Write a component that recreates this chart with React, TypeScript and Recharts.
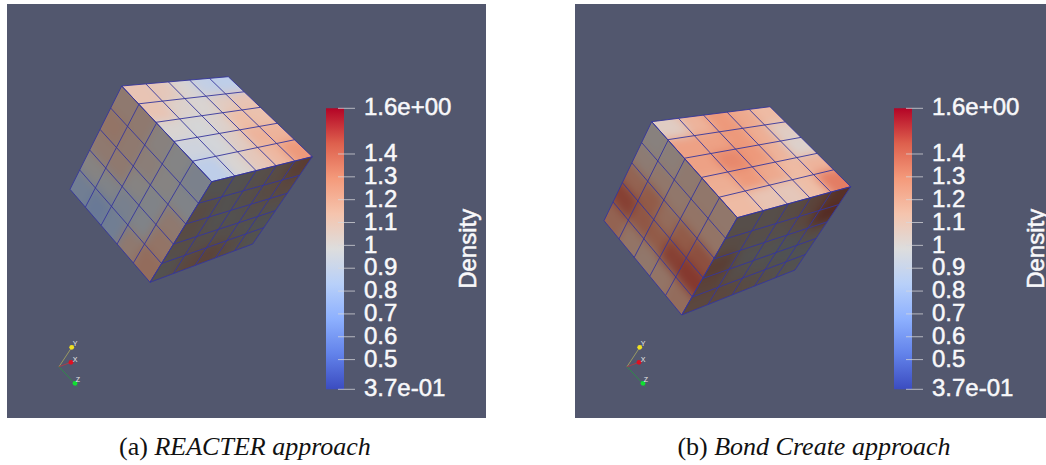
import {
  ScatterChart,
  Scatter,
  BarChart,
  Bar,
  XAxis,
  YAxis,
  ReferenceDot,
} from 'recharts';

type Pt = [number, number];

// colour bar
const DENSITY_MIN = 0.37;
const DENSITY_MAX = 1.6;
const DENSITY_TICKS = [0.37, 0.5, 0.6, 0.7, 0.8, 0.9, 1, 1.1, 1.2, 1.3, 1.4, 1.6];
const TICK_NAMES: Record<string, string> = { '0.37': '3.7e-01', '1.6': '1.6e+00' };
const COOL_WARM = [
  '#3b4cc0', '#6282ea', '#8db0fe', '#b8d0f9', '#dddddd',
  '#f5c4ad', '#f49a7b', '#de604d', '#b40426',
];

// cube corners, in page pixels
const REACTER_TOP_CORNERS: Pt[] = [[121.7, 86], [228.3, 76.7], [312.3, 156.7], [211.7, 181.7]];
const REACTER_LEFT_CORNERS: Pt[] = [[121.7, 86], [211.7, 181.7], [150, 282.3], [70, 189.3]];
const REACTER_RIGHT_CORNERS: Pt[] = [[211.7, 181.7], [312.3, 156.7], [252.7, 244], [150, 282.3]];
const BOND_TOP_CORNERS: Pt[] = [[651.7, 121.7], [770, 106.7], [850.7, 186.7], [737.3, 217.7]];
const BOND_LEFT_CORNERS: Pt[] = [[651.7, 121.7], [737.3, 217.7], [681.7, 315], [604, 220.7]];
const BOND_RIGHT_CORNERS: Pt[] = [[737.3, 217.7], [850.7, 186.7], [795, 270], [681.7, 315]];

// density per mesh cell
const REACTER_TOP = [
  [1.1, 1.08, 1.0, 0.9, 0.88],
  [1.1, 1.02, 1.0, 1.06, 1.1],
  [1.0, 0.98, 1.02, 1.14, 1.12],
  [0.95, 0.97, 1.05, 1.18, 1.18],
  [0.88, 1.0, 1.08, 1.16, 1.28],
];
const REACTER_LEFT = [
  [1.1, 1.1, 1.02, 0.98, 0.92],
  [1.15, 1.1, 1.05, 1.0, 0.95],
  [1.1, 1.1, 1.0, 0.95, 1.1],
  [1.0, 0.95, 0.9, 0.95, 1.15],
  [0.85, 0.8, 0.85, 1.1, 1.2],
];
const REACTER_RIGHT = [
  [1.0, 1.0, 1.05, 1.1, 1.25],
  [1.1, 1.0, 1.05, 1.1, 1.15],
  [1.1, 1.0, 1.0, 1.05, 1.05],
  [1.05, 1.05, 1.05, 1.0, 0.95],
  [1.0, 1.15, 1.2, 1.1, 1.0],
];
const BOND_TOP = [
  [1.05, 1.18, 1.28, 1.22, 1.15],
  [1.25, 1.25, 1.28, 1.2, 1.05],
  [1.25, 1.33, 1.28, 1.18, 1.02],
  [1.2, 1.28, 1.22, 1.15, 1.18],
  [1.15, 1.1, 1.08, 1.14, 1.36],
];
const BOND_LEFT = [
  [1.02, 1.05, 1.1, 1.12, 1.12],
  [1.08, 1.12, 1.12, 1.15, 1.15],
  [1.25, 1.3, 1.2, 1.3, 1.35],
  [1.42, 1.32, 1.3, 1.42, 1.45],
  [1.25, 1.15, 1.12, 1.15, 1.2],
];
const BOND_RIGHT = [
  [1.05, 1.05, 1.1, 1.2, 1.35],
  [1.1, 1.05, 1.05, 1.15, 1.4],
  [1.25, 1.0, 1.0, 0.95, 1.1],
  [1.2, 1.05, 1.0, 0.95, 0.95],
  [1.15, 1.15, 1.1, 1.05, 1.0],
];

// orientation triad
const TRIAD_ORIGIN: Pt = [59, 366.7];
const TRIAD_Y: Pt = [73.3, 345];
const TRIAD_X: Pt = [71, 362.3];
const TRIAD_Z: Pt = [77.7, 386.7];
const TRIAD_Y_BALL: Pt = [71.7, 347.3];
const TRIAD_Z_BALL: Pt = [75, 383.3];

const PANEL_TOP = 4;
const PANEL_BOTTOM = 418;
const MESH_COLOR = '#36369c';
const TOP_SHADE = 0.97;
const LEFT_SHADE = 0.6;
const RIGHT_SHADE = 0.37;

function hexToRgb(hex: string) {
  return [1, 3, 5].map((i) => parseInt(hex.slice(i, i + 2), 16));
}

// ParaView cool to warm, darkened by the light falling on the face
function densityColor(value: number, shade: number) {
  const t = Math.min(0.9999, Math.max(0, (value - DENSITY_MIN) / (DENSITY_MAX - DENSITY_MIN))) * (COOL_WARM.length - 1);
  const i = Math.floor(t);
  const a = hexToRgb(COOL_WARM[i]);
  const b = hexToRgb(COOL_WARM[i + 1]);
  const rgb = a.map((v, k) => Math.round((v + (b[k] - v) * (t - i)) * shade));
  return `rgb(${rgb.join(',')})`;
}

// perspective map of the unit square on a face of the cube
function faceMapper(q: Pt[]) {
  const [[x0, y0], [x1, y1], [x2, y2], [x3, y3]] = q;
  const dx1 = x1 - x2, dx2 = x3 - x2, sx = x0 - x1 + x2 - x3;
  const dy1 = y1 - y2, dy2 = y3 - y2, sy = y0 - y1 + y2 - y3;
  const det = dx1 * dy2 - dx2 * dy1;
  const g = (sx * dy2 - dx2 * sy) / det;
  const h = (dx1 * sy - sx * dy1) / det;
  const a = x1 - x0 + g * x1, b = x3 - x0 + h * x3;
  const d = y1 - y0 + g * y1, e = y3 - y0 + h * y3;
  return (u: number, v: number): Pt => {
    const w = g * u + h * v + 1;
    return [(a * u + b * v + x0) / w, (d * u + e * v + y0) / w];
  };
}

function faceCells(corners: Pt[], values: number[][], shade: number) {
  const map = faceMapper(corners);
  const n = values.length;
  const cells: { x: number; y: number; density: number; color: string; poly: Pt[] }[] = [];
  values.forEach((row, r) => {
    row.forEach((density, c) => {
      // border cells run past the face so the blur stays opaque up to the clip
      const u0 = c === 0 ? -0.2 : c / n;
      const u1 = c === n - 1 ? 1.2 : (c + 1) / n;
      const v0 = r === 0 ? -0.2 : r / n;
      const v1 = r === n - 1 ? 1.2 : (r + 1) / n;
      const [x, y] = map((c + 0.5) / n, (r + 0.5) / n);
      cells.push({
        x,
        y,
        density,
        color: densityColor(density, shade),
        poly: [map(u0, v0), map(u1, v0), map(u1, v1), map(u0, v1)],
      });
    });
  });
  return cells;
}

function CellShape(props: any) {
  const { cx, cy, payload } = props;
  const points = payload.poly.map(([x, y]: Pt) => `${cx + x - payload.x},${cy + y - payload.y}`).join(' ');
  return <polygon points={points} fill={payload.color} stroke={payload.color} strokeWidth={1} />;
}

function Ball(props: any) {
  return <circle cx={props.cx} cy={props.cy} r={2.4} fill={props.fill} />;
}

const NoPoint = () => null;

function ColorBarTick(props: any) {
  const { x, y, payload } = props;
  const key = String(payload.value);
  return (
    <g>
      <line x1={x - 6} x2={x + 11} y1={y} y2={y} stroke="#d8d8dc" strokeOpacity={0.75} />
      <text
        x={x + 20}
        y={y - 1.5}
        dy="0.36em"
        fill="#f8f8fa"
        stroke="#f8f8fa"
        strokeWidth={0.5}
        fontSize={24}
        fontFamily="'Liberation Sans', Arial, sans-serif"
      >
        {TICK_NAMES[key] ?? key}
      </text>
    </g>
  );
}

function ColorBar({ id, left }: { id: string; left: number }) {
  return (
    <div style={{ position: 'absolute', left, top: 0 }}>
      <BarChart
        width={160}
        height={PANEL_BOTTOM}
        data={[{ name: 'Density', range: [DENSITY_MIN, DENSITY_MAX] }]}
        margin={{ top: 108.3, bottom: PANEL_BOTTOM - 389.3, left: 0, right: 141 }}
        barCategoryGap={0}
      >
        <defs>
          <linearGradient id={id} x1="0" y1="1" x2="0" y2="0">
            {COOL_WARM.map((color, i) => (
              <stop key={color} offset={i / (COOL_WARM.length - 1)} stopColor={color} />
            ))}
          </linearGradient>
        </defs>
        <XAxis dataKey="name" hide />
        <YAxis
          orientation="right"
          type="number"
          domain={[DENSITY_MIN, DENSITY_MAX]}
          ticks={DENSITY_TICKS}
          interval={0}
          width={1}
          axisLine={false}
          tickLine={false}
          tickSize={0}
          tickMargin={0}
          tick={<ColorBarTick />}
          label={{
            value: 'Density',
            angle: -90,
            position: 'right',
            offset: 122.5,
            textAnchor: 'middle',
            fill: '#f8f8fa',
            stroke: '#f8f8fa',
            strokeWidth: 0.5,
            fontSize: 24,
            fontFamily: "'Liberation Sans', Arial, sans-serif",
          }}
        />
        <Bar dataKey="range" fill={`url(#${id})`} isAnimationActive={false} />
      </BarChart>
    </div>
  );
}

function meshLines(corners: Pt[]) {
  const map = faceMapper(corners);
  const lines: Pt[][] = [];
  for (let i = 0; i <= 5; i++) {
    lines.push([map(i / 5, 0), map(i / 5, 1)]);
    lines.push([map(0, i / 5), map(1, i / 5)]);
  }
  return lines;
}

interface FaceDef {
  name: string;
  corners: Pt[];
  values: number[][];
  shade: number;
}

function Segment(a: Pt, b: Pt, key: string, stroke: string, strokeWidth: number) {
  return (
    <Scatter
      key={key}
      data={[{ x: a[0], y: a[1] }, { x: b[0], y: b[1] }]}
      line={{ stroke, strokeWidth }}
      shape={NoPoint}
      isAnimationActive={false}
    />
  );
}

function CubePanel({ id, left, width, triadShift, faces }: {
  id: string;
  left: number;
  width: number;
  triadShift: number;
  faces: FaceDef[];
}) {
  const shift = (p: Pt): Pt => [p[0] + triadShift, p[1]];
  const height = PANEL_BOTTOM - PANEL_TOP;
  const clipCss = faces
    .map((f) => `.${id}-${f.name}{filter:blur(5px);clip-path:url(#${id}-clip-${f.name});}`)
    .join('\n');

  return (
    <div style={{ position: 'absolute', left, top: PANEL_TOP, width, height, background: '#52576e' }}>
      <style>{clipCss}</style>
      <ScatterChart width={width} height={height} margin={{ top: 0, right: 0, bottom: 0, left: 0 }}>
        <defs>
          {faces.map((f) => (
            <clipPath key={f.name} id={`${id}-clip-${f.name}`} clipPathUnits="userSpaceOnUse">
              <polygon points={f.corners.map(([x, y]) => `${x - left},${y - PANEL_TOP}`).join(' ')} />
            </clipPath>
          ))}
        </defs>
        <XAxis type="number" dataKey="x" domain={[left, left + width]} hide />
        <YAxis type="number" dataKey="y" domain={[PANEL_TOP, PANEL_BOTTOM]} reversed hide />
        {faces.map((f) => (
          <Scatter
            key={f.name}
            className={`${id}-${f.name}`}
            data={faceCells(f.corners, f.values, f.shade)}
            shape={CellShape}
            isAnimationActive={false}
          />
        ))}
        {faces.flatMap((f) =>
          meshLines(f.corners).map((line, i) =>
            Segment(line[0], line[1], `${f.name}-${i}`, MESH_COLOR, 0.9),
          ),
        )}
        {/* orientation axes */}
        {Segment(shift(TRIAD_ORIGIN), shift(TRIAD_Y), 'axis-y', '#9a9a62', 1)}
        {Segment(shift(TRIAD_ORIGIN), shift(TRIAD_X), 'axis-x', '#a83c4a', 1)}
        {Segment(shift(TRIAD_ORIGIN), shift(TRIAD_Z), 'axis-z', '#2f8a4a', 1)}
        <Scatter data={[{ x: shift(TRIAD_Y_BALL)[0], y: TRIAD_Y_BALL[1] }]} fill="#f0e020" shape={Ball} isAnimationActive={false} />
        <Scatter data={[{ x: shift(TRIAD_X)[0], y: TRIAD_X[1] }]} fill="#e01020" shape={Ball} isAnimationActive={false} />
        <Scatter data={[{ x: shift(TRIAD_Z_BALL)[0], y: TRIAD_Z_BALL[1] }]} fill="#10e030" shape={Ball} isAnimationActive={false} />
        <ReferenceDot x={75 + triadShift} y={344} r={0} stroke="none" label={{ value: 'Y', fill: '#e8e8e8', fontSize: 7, fontFamily: 'Liberation Sans' }} />
        <ReferenceDot x={75 + triadShift} y={359.5} r={0} stroke="none" label={{ value: 'X', fill: '#e8e8e8', fontSize: 7, fontFamily: 'Liberation Sans' }} />
        <ReferenceDot x={78 + triadShift} y={380} r={0} stroke="none" label={{ value: 'Z', fill: '#e8e8e8', fontSize: 7, fontFamily: 'Liberation Sans' }} />
      </ScatterChart>
    </div>
  );
}

function Caption({ center, tag, title }: { center: number; tag: string; title: string }) {
  return (
    <div
      style={{
        position: 'absolute',
        left: center - 200,
        width: 400,
        top: 432,
        textAlign: 'center',
        fontFamily: "'Liberation Serif', serif",
        fontSize: 26,
        color: '#111',
        whiteSpace: 'pre',
      }}
    >
      {tag} <i>{title}</i>
    </div>
  );
}

export default function App() {
  return (
    <div style={{ position: 'absolute', left: 0, top: 0, width: 1046, height: 465, background: '#fff', overflow: 'hidden' }}>
      <CubePanel
        id="a"
        left={7}
        width={479}
        triadShift={0}
        faces={[
          { name: 'top', corners: REACTER_TOP_CORNERS, values: REACTER_TOP, shade: TOP_SHADE },
          { name: 'left', corners: REACTER_LEFT_CORNERS, values: REACTER_LEFT, shade: LEFT_SHADE },
          { name: 'right', corners: REACTER_RIGHT_CORNERS, values: REACTER_RIGHT, shade: RIGHT_SHADE },
        ]}
      />
      <ColorBar id="bar-a" left={326} />
      <CubePanel
        id="b"
        left={575}
        width={471}
        triadShift={568}
        faces={[
          { name: 'top', corners: BOND_TOP_CORNERS, values: BOND_TOP, shade: TOP_SHADE },
          { name: 'left', corners: BOND_LEFT_CORNERS, values: BOND_LEFT, shade: LEFT_SHADE },
          { name: 'right', corners: BOND_RIGHT_CORNERS, values: BOND_RIGHT, shade: RIGHT_SHADE },
        ]}
      />
      <ColorBar id="bar-b" left={894} />
      <Caption center={245} tag="(a)" title="REACTER approach" />
      <Caption center={814} tag="(b)" title="Bond Create approach" />
    </div>
  );
}
